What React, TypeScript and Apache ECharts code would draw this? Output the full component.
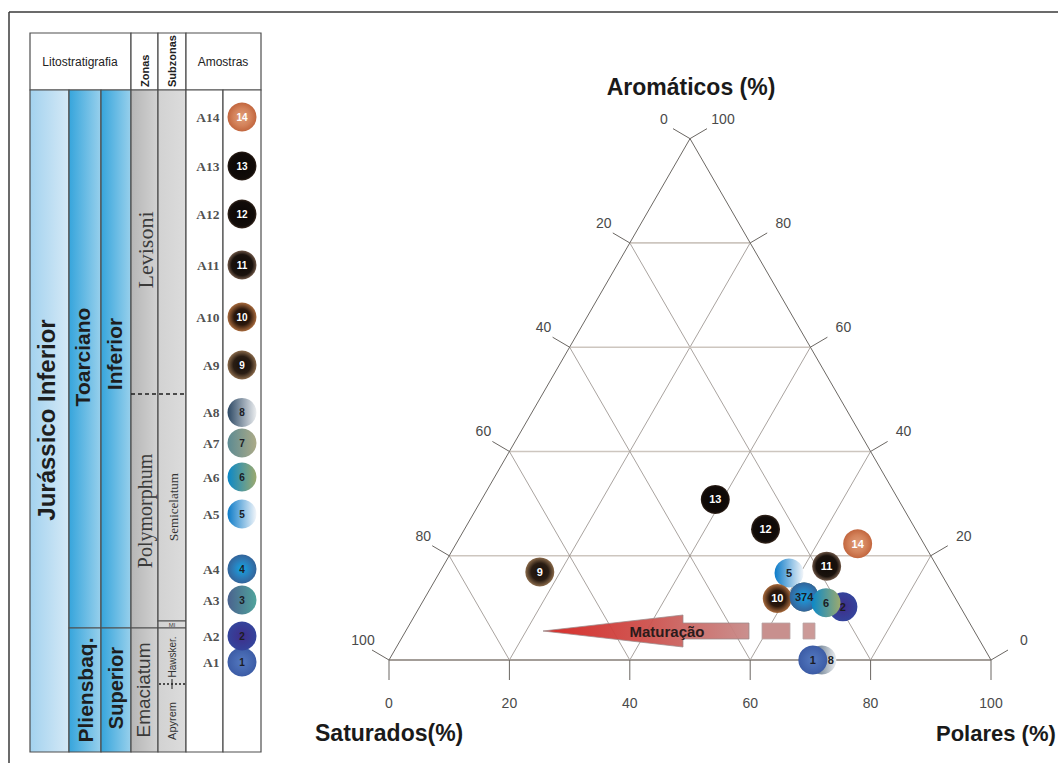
import { useEffect, useRef } from "react";
import * as echarts from "echarts";

// ---- Samples -------------------------------------------------------------
const sampleIds = [1, 2, 3, 4, 5, 6, 7, 8, 9, 10, 11, 12, 13, 14];
const sampleNames = ["A1", "A2", "A3", "A4", "A5", "A6", "A7", "A8", "A9", "A10", "A11", "A12", "A13", "A14"];
// Position of each sample above the base of the logged section (m)
const sampleHeight = [4.5, 5.8, 7.6, 9.15, 11.9, 13.75, 15.45, 16.98, 19.35, 21.75, 24.35, 26.9, 29.3, 31.75];
const sectionThickness = 33.1;

// SARA composition (%)
const saturados = [29.6, 19.5, 25.0, 25.0, 25.2, 21.9, 25.0, 28.1, 66.5, 29.6, 18.3, 24.9, 30.4, 11.0];
const aromaticos = [0.0, 10.2, 12.1, 12.1, 16.7, 11.0, 12.1, 0.0, 16.9, 11.8, 18.0, 25.1, 30.8, 22.3];
const polares = [70.4, 70.3, 62.9, 62.9, 58.1, 67.1, 62.9, 71.9, 16.6, 58.6, 63.7, 50.0, 38.8, 66.7];

// Samples 3, 7 and 4 plot on the same spot and share one label
const ternaryLabel = ["1", "2", "", "374", "5", "6", "", "8", "9", "10", "11", "12", "13", "14"];
// Later entries are drawn on top
const ternaryOrder = [8, 1, 5, 2, 3, 7, 10, 4, 6, 11, 12, 13, 14, 9];

const gridSteps = [20, 40, 60, 80];
const tickSteps = [0, 20, 40, 60, 80, 100];

// ---- Styling helpers ----------------------------------------------------
const SANS = "'Liberation Sans', Arial, Helvetica, sans-serif";
const SERIF = "'Liberation Serif', 'Times New Roman', serif";

const radial = (c0: string, c1: string, c2?: string, mid = 0.7) => ({
  type: "radial", x: 0.5, y: 0.5, r: 0.5,
  colorStops: c2
    ? [{ offset: 0, color: c0 }, { offset: mid, color: c1 }, { offset: 1, color: c2 }]
    : [{ offset: 0, color: c0 }, { offset: 1, color: c1 }],
});
const linear = (c0: string, c1: string) => ({
  type: "linear", x: 0, y: 0, x2: 1, y2: 0,
  colorStops: [{ offset: 0, color: c0 }, { offset: 1, color: c1 }],
});

const sampleFill = (i: number): any => {
  switch (i + 1) {
    case 1: return radial("#5479c0", "#3c5ca6");
    case 2: return radial("#3f2e8a", "#34449c");
    case 3: return linear("#4a628e", "#50a49c");
    case 4: return radial("#12a6e6", "#2c7cb8", "#33649a", 0.6);
    case 5: return linear("#0c7bc8", "#f3f6fa");
    case 6: return linear("#0a88c8", "#9caa6e");
    case 7: return linear("#5c8a92", "#acab88");
    case 8: return linear("#2c4864", "#eceef0");
    case 9: return radial("#160f0a", "#2a1d13", "#8a6a4a", 0.6);
    case 10: return radial("#140b06", "#2c180c", "#a86a3c", 0.55);
    case 11: return radial("#0e0906", "#1a120d", "#6e5646", 0.72);
    case 12: return radial("#0a0605", "#120c09", "#3a2a20", 0.85);
    case 13: return radial("#0a0605", "#110b08", "#30221a", 0.87);
    default: return radial("#e09e7a", "#d3825a", "#c2663e", 0.6);
  }
};
const labelColor = (i: number) => (i + 1 >= 9 ? "#ffffff" : "#1c1c24");

// ---- Ternary geometry ---------------------------------------------------
const H = Math.sqrt(3) / 2;
const toXY = (s: number, a: number, p: number) => [p + a / 2, a * H];
const TRI_LEFT = 389;
const TRI_BASE = 660;
const TRI_W = 602;

const ternaryData = ternaryOrder.map((id) => {
  const i = id - 1;
  const txt = ternaryLabel[i];
  return {
    name: String(id),
    value: toXY(saturados[i], aromaticos[i], polares[i]),
    itemStyle: { color: sampleFill(i), opacity: 1 },
    label: {
      show: txt !== "",
      formatter: txt,
      color: labelColor(i),
      offset: id === 8 ? [9, 0] : [0, 0],
    },
  };
});

const columnData = sampleIds.map((id, i) => ({
  name: sampleNames[i],
  value: [1, sampleHeight[i]],
  itemStyle: { color: sampleFill(i), opacity: 1 },
  label: { formatter: String(id), color: labelColor(i) },
}));

const nameData = sampleIds.map((id, i) => ({
  name: sampleNames[i],
  value: [1, sampleHeight[i]],
}));

// ---- Stratigraphic column (left panel) ----------------------------------
const border = { stroke: "#4e4e4e", lineWidth: 1.2 };
const blueMain = () => linear("#a3d2ef", "#d5e9f6");
const blueDeep = () => linear("#36a5dc", "#98d0ec");
const grayZone = () => linear("#b6b6b6", "#d2d2d2");
const graySub = () => linear("#d2d2d2", "#dcdcdc");

const box = (x: number, y: number, w: number, h: number, fill: any) => ({
  type: "rect",
  shape: { x, y, width: w, height: h },
  style: { fill, ...border },
});
const vtext = (text: string, x: number, y: number, font: string, fill = "#1e1e1e", align = "center") => ({
  type: "text",
  x, y,
  rotation: Math.PI / 2,
  style: { text, font, fill, align, verticalAlign: "middle" },
});
const htext = (text: string, x: number, y: number, font: string, fill = "#1e1e1e", align = "center") => ({
  type: "text",
  x, y,
  style: { text, font, fill, align, verticalAlign: "middle" },
});

const columnGraphics: any[] = [
  // page frame
  { type: "line", shape: { x1: 9, y1: 12, x2: 1058, y2: 12 }, style: { stroke: "#3a3a3a", lineWidth: 1.5 } },
  { type: "line", shape: { x1: 9, y1: 12, x2: 9, y2: 763 }, style: { stroke: "#3a3a3a", lineWidth: 1.5 } },
  // header
  box(30, 33, 101, 57, "#fff"),
  box(131, 33, 27, 57, "#fff"),
  box(158, 33, 28, 57, "#fff"),
  box(186, 33, 75, 57, "#fff"),
  // body columns
  box(30, 90, 39, 662, blueMain()),
  box(69, 90, 32, 538, blueDeep()),
  box(69, 628, 32, 124, blueDeep()),
  box(101, 90, 30, 538, blueDeep()),
  box(101, 628, 30, 124, blueDeep()),
  box(131, 90, 27, 538, grayZone()),
  box(131, 628, 27, 124, grayZone()),
  box(158, 90, 28, 531, graySub()),
  box(158, 621, 28, 7, graySub()),
  box(158, 628, 28, 124, graySub()),
  box(186, 90, 37, 662, "#fff"),
  box(223, 90, 38, 662, "#fff"),
  // Levisoni / Polymorphum boundary
  { type: "line", shape: { x1: 131, y1: 394, x2: 186, y2: 394 }, style: { stroke: "#1e1e1e", lineWidth: 1.6, lineDash: [4, 3] } },
  // Hawskerense / Apyrenum boundary
  { type: "line", shape: { x1: 159, y1: 684, x2: 186, y2: 684 }, style: { stroke: "#1e1e1e", lineWidth: 1.6, lineDash: [2, 2] } },
  { type: "line", shape: { x1: 172, y1: 679, x2: 172, y2: 689 }, style: { stroke: "#1e1e1e", lineWidth: 1 } },
  // header texts
  htext("Litostratigrafia", 80, 62, `12px ${SANS}`, "#222"),
  vtext("Zonas", 145, 87, `bold 11px ${SANS}`, "#222", "left"),
  vtext("Subzonas", 172, 87, `bold 11px ${SANS}`, "#222", "left"),
  htext("Amostras", 223, 62, `12px ${SANS}`, "#222"),
  // body texts
  vtext("Jurássico Inferior", 46, 420, `bold 24px ${SANS}`),
  vtext("Toarciano", 82, 357, `bold 21px ${SANS}`),
  vtext("Inferior", 114, 354, `bold 21px ${SANS}`),
  vtext("Pliensbaq.", 85, 690, `bold 21px ${SANS}`),
  vtext("Superior", 116, 688, `bold 20px ${SANS}`),
  vtext("Levisoni", 145, 250, `22px ${SERIF}`, "#3a3a3a"),
  vtext("Polymorphum", 145, 511, `20px ${SERIF}`, "#3a3a3a"),
  vtext("Emaciatum", 143, 690, `19px ${SANS}`, "#3a3a3a"),
  vtext("Semicelatum", 173, 507, `13px ${SERIF}`, "#333"),
  vtext("Hawsker.", 172, 657, `10px ${SANS}`, "#333"),
  vtext("Apyrem", 172, 721, `11px ${SANS}`, "#333"),
  htext("MI", 172, 624.5, `6px ${SANS}`, "#444"),
];

// ---- Ternary annotations --------------------------------------------------
const ternaryGraphics: any[] = [
  htext("Aromáticos (%)", 691, 87, `bold 23px ${SANS}`, "#1a1a1a"),
  htext("Saturados(%)", 315, 733, `bold 23px ${SANS}`, "#1a1a1a", "left"),
  htext("Polares (%)", 936, 733, `bold 22px ${SANS}`, "#1a1a1a", "left"),
  {
    type: "polygon",
    z: 5,
    shape: {
      points: [[543, 631], [683, 615], [683, 623], [749, 623], [749, 639], [683, 639], [683, 647]],
    },
    style: {
      fill: {
        type: "linear", x: 0, y: 0, x2: 1, y2: 0,
        colorStops: [
          { offset: 0, color: "#d6221f" },
          { offset: 0.5, color: "#cd4f4b" },
          { offset: 1, color: "#c78a88" },
        ],
      },
      stroke: "#9c8c8c",
      lineWidth: 0.8,
      opacity: 0.95,
    },
  },
  { type: "rect", z: 5, shape: { x: 762, y: 623, width: 28, height: 16 }, style: { fill: "#c8908e", stroke: "#b8a6a6", lineWidth: 0.8 } },
  { type: "rect", z: 5, shape: { x: 803, y: 623, width: 12, height: 16 }, style: { fill: "#cc9a98", stroke: "#b8a6a6", lineWidth: 0.8 } },
  { ...htext("Maturação", 667, 631, `bold 15px ${SANS}`, "#2b1b1b"), z: 6 },
];

// ---- Series -------------------------------------------------------------
const seg = (api: any, a: number[], b: number[], style: any) => {
  const p1 = api.coord(a);
  const p2 = api.coord(b);
  return { type: "line", shape: { x1: p1[0], y1: p1[1], x2: p2[0], y2: p2[1] }, style };
};

const option: any = {
  animation: false,
  backgroundColor: "#ffffff",
  grid: [
    { left: TRI_LEFT, top: TRI_BASE - TRI_W * H, width: TRI_W, height: TRI_W * H, outerBoundsMode: "none" },
    { left: 223, top: 90, width: 38, height: 662, outerBoundsMode: "none" },
  ],
  xAxis: [
    { type: "value", gridIndex: 0, min: 0, max: 100, show: false },
    { type: "value", gridIndex: 1, min: 0, max: 2, show: false },
  ],
  yAxis: [
    { type: "value", gridIndex: 0, min: 0, max: 100 * H, show: false },
    { type: "value", gridIndex: 1, min: 0, max: sectionThickness, show: false },
  ],
  series: [
    {
      type: "custom",
      name: "grid",
      xAxisIndex: 0, yAxisIndex: 0,
      silent: true,
      z: 1,
      data: gridSteps.map((v) => [v, 0]),
      renderItem: (_p: any, api: any) => {
        const v = api.value(0);
        return {
          type: "group",
          children: [
            seg(api, toXY(100 - v, v, 0), toXY(0, v, 100 - v), { stroke: "#cdc6bf", lineWidth: 1.6 }),
            seg(api, toXY(100 - v, 0, v), toXY(0, 100 - v, v), { stroke: "#938c87", lineWidth: 0.8 }),
            seg(api, toXY(v, 0, 100 - v), toXY(v, 100 - v, 0), { stroke: "#938c87", lineWidth: 0.8 }),
          ],
        };
      },
    },
    {
      type: "custom",
      name: "frame",
      xAxisIndex: 0, yAxisIndex: 0,
      silent: true,
      z: 1,
      data: [[0, 0]],
      renderItem: (_p: any, api: any) => ({
        type: "group",
        children: [
          seg(api, toXY(100, 0, 0), toXY(0, 0, 100), { stroke: "#a39d98", lineWidth: 1.8 }),
          seg(api, toXY(100, 0, 0), toXY(0, 100, 0), { stroke: "#6c6864", lineWidth: 1 }),
          seg(api, toXY(0, 0, 100), toXY(0, 100, 0), { stroke: "#6c6864", lineWidth: 1 }),
        ],
      }),
    },
    {
      type: "custom",
      name: "ticks",
      xAxisIndex: 0, yAxisIndex: 0,
      silent: true,
      z: 1,
      data: tickSteps.map((v) => [v, 0]),
      renderItem: (_p: any, api: any) => {
        const v = api.value(0);
        const b = api.coord(toXY(100 - v, 0, v));
        const l = api.coord(toXY(v, 100 - v, 0));
        const r = api.coord(toXY(0, v, 100 - v));
        const tickStyle = { stroke: "#6a6662", lineWidth: 1 };
        const txt = (t: string, x: number, y: number) => ({
          type: "text", x, y,
          style: { text: t, font: `14px ${SANS}`, fill: "#4a4a4a", align: "center", verticalAlign: "middle" },
        });
        return {
          type: "group",
          children: [
            { type: "line", shape: { x1: b[0], y1: b[1], x2: b[0], y2: b[1] + 20 }, style: tickStyle },
            txt(String(v), b[0], b[1] + 43),
            { type: "line", shape: { x1: l[0], y1: l[1], x2: l[0] - 17, y2: l[1] - 10 }, style: tickStyle },
            txt(String(v), l[0] - 26, l[1] - 20),
            { type: "line", shape: { x1: r[0], y1: r[1], x2: r[0] + 17, y2: r[1] - 10 }, style: tickStyle },
            txt(String(v), r[0] + 33, r[1] - 20),
          ],
        };
      },
    },
    {
      type: "scatter",
      name: "SARA",
      xAxisIndex: 0, yAxisIndex: 0,
      symbol: "circle",
      symbolSize: 29,
      z: 3,
      itemStyle: { opacity: 1 },
      emphasis: { disabled: true },
      label: {
        show: true,
        position: "inside",
        fontFamily: SANS,
        fontWeight: "bold",
        fontSize: 11,
      },
      data: ternaryData,
    },
    {
      type: "scatter",
      name: "Amostras",
      xAxisIndex: 1, yAxisIndex: 1,
      symbol: "circle",
      symbolSize: 29,
      z: 3,
      itemStyle: { opacity: 1 },
      emphasis: { disabled: true },
      label: {
        show: true,
        position: "inside",
        fontFamily: SANS,
        fontWeight: "bold",
        fontSize: 10,
      },
      data: columnData,
    },
    {
      type: "scatter",
      name: "Códigos",
      xAxisIndex: 1, yAxisIndex: 1,
      symbol: "circle",
      symbolSize: 29,
      silent: true,
      z: 3,
      itemStyle: { color: "rgba(0,0,0,0)" },
      emphasis: { disabled: true },
      label: {
        show: true,
        position: "left",
        distance: 8,
        formatter: "{b}",
        fontFamily: SERIF,
        fontWeight: "bold",
        fontSize: 13.5,
        color: "#222",
      },
      data: nameData,
    },
  ],
  graphic: { elements: [...columnGraphics, ...ternaryGraphics] },
};

export default function App() {
  const ref = useRef<HTMLDivElement>(null);
  useEffect(() => {
    if (!ref.current) return;
    const chart = echarts.init(ref.current, null, { renderer: "svg", width: 1058, height: 763 });
    chart.setOption(option);
    return () => chart.dispose();
  }, []);
  return (
    <div
      ref={ref}
      style={{ position: "fixed", left: 0, top: 0, width: 1058, height: 763, background: "#ffffff" }}
    />
  );
}
